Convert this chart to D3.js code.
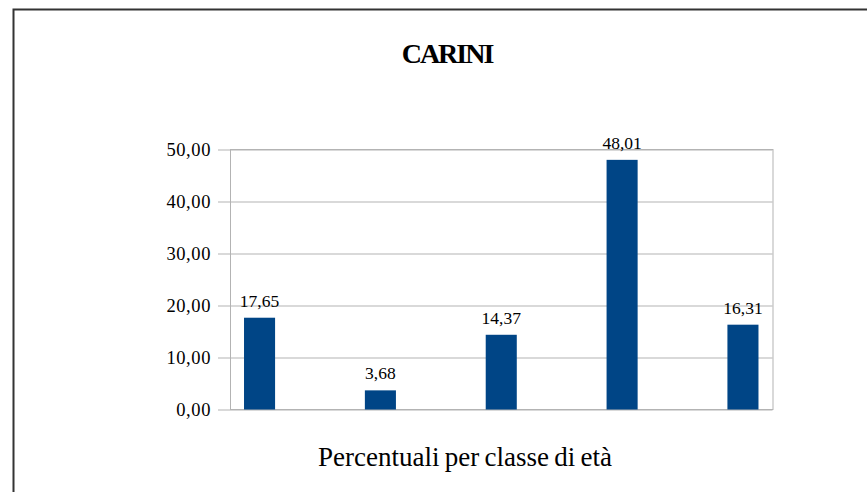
<!DOCTYPE html>
<html>
<head>
<meta charset="utf-8">
<script src="https://cdn.jsdelivr.net/npm/d3@7"></script>
<style>
  body { margin: 0; background: #fff; }
  text { font-family: "Liberation Serif", "Times New Roman", serif; fill: #000; }
</style>
</head>
<body>
<svg id="chart"></svg>
<script>
const width = 867;
const height = 492;

// Age classes (not labelled on the original chart)
const categories = ["classe 1", "classe 2", "classe 3", "classe 4", "classe 5"];
const values = [17.65, 3.68, 14.37, 48.01, 16.31];
const yTicks = [0, 10, 20, 30, 40, 50];

const fmt = v => d3.format(".2f")(v).replace(".", ",");

const margin = { top: 149.5, right: 94.5, bottom: 82.5, left: 230 };
const plotW = width - margin.left - margin.right;
const plotH = height - margin.top - margin.bottom;

const svg = d3.select("#chart")
  .attr("width", width)
  .attr("height", height);

// outer frame
svg.append("rect")
  .attr("x", 13.5)
  .attr("y", 9.5)
  .attr("width", 1000)
  .attr("height", 1000)
  .attr("fill", "none")
  .attr("stroke", "#333")
  .attr("stroke-width", 2);

// title
svg.append("text")
  .attr("x", 447)
  .attr("y", 63)
  .attr("text-anchor", "middle")
  .attr("font-weight", "bold")
  .attr("font-size", 28)
  .attr("letter-spacing", -2)
  .text("CARINI");

const x = d3.scaleBand()
  .domain(categories)
  .range([0, plotW])
  .paddingInner(0.743)
  .paddingOuter(0.116);

const y = d3.scaleLinear()
  .domain([0, 50])
  .range([plotH, 0]);

const g = svg.append("g")
  .attr("transform", `translate(${margin.left},${margin.top})`);

// gridlines
g.append("g")
  .selectAll("line")
  .data(yTicks)
  .enter().append("line")
  .attr("x1", 0)
  .attr("x2", plotW)
  .attr("y1", d => Math.round(y(d)) + 0.5)
  .attr("y2", d => Math.round(y(d)) + 0.5)
  .attr("stroke", "#b3b3b3");

// plot border
g.append("rect")
  .attr("x", 0.5)
  .attr("y", 0)
  .attr("width", plotW)
  .attr("height", plotH)
  .attr("fill", "none")
  .attr("stroke", "#b3b3b3");

// y axis
const yAxis = g.append("g")
  .attr("font-family", "Liberation Serif, serif")
  .call(d3.axisLeft(y).tickValues(yTicks).tickFormat(fmt).tickSize(12).tickPadding(7).tickSizeOuter(0));
yAxis.attr("font-family", "Liberation Serif, serif");
yAxis.select(".domain").attr("stroke", "#b3b3b3");
yAxis.selectAll(".tick line").attr("stroke", "#b3b3b3");
yAxis.selectAll(".tick text")
  .attr("font-size", 18.5)
  .attr("letter-spacing", 0.6)
  .attr("fill", "#000");

// bars
g.append("g")
  .selectAll("rect")
  .data(values)
  .enter().append("rect")
  .attr("x", (d, i) => x(categories[i]))
  .attr("y", d => y(d))
  .attr("width", x.bandwidth())
  .attr("height", d => plotH - y(d))
  .attr("fill", "#004586");

// value labels
g.append("g")
  .selectAll("text")
  .data(values)
  .enter().append("text")
  .attr("x", (d, i) => x(categories[i]) + x.bandwidth() / 2)
  .attr("y", d => y(d) - 11)
  .attr("text-anchor", "middle")
  .attr("font-size", 17.5)
  .text(d => fmt(d));

// x axis title
svg.append("text")
  .attr("x", 465)
  .attr("y", 466)
  .attr("text-anchor", "middle")
  .attr("font-size", 27)
  .attr("word-spacing", -1.5)
  .text("Percentuali per classe di età");
</script>
</body>
</html>
